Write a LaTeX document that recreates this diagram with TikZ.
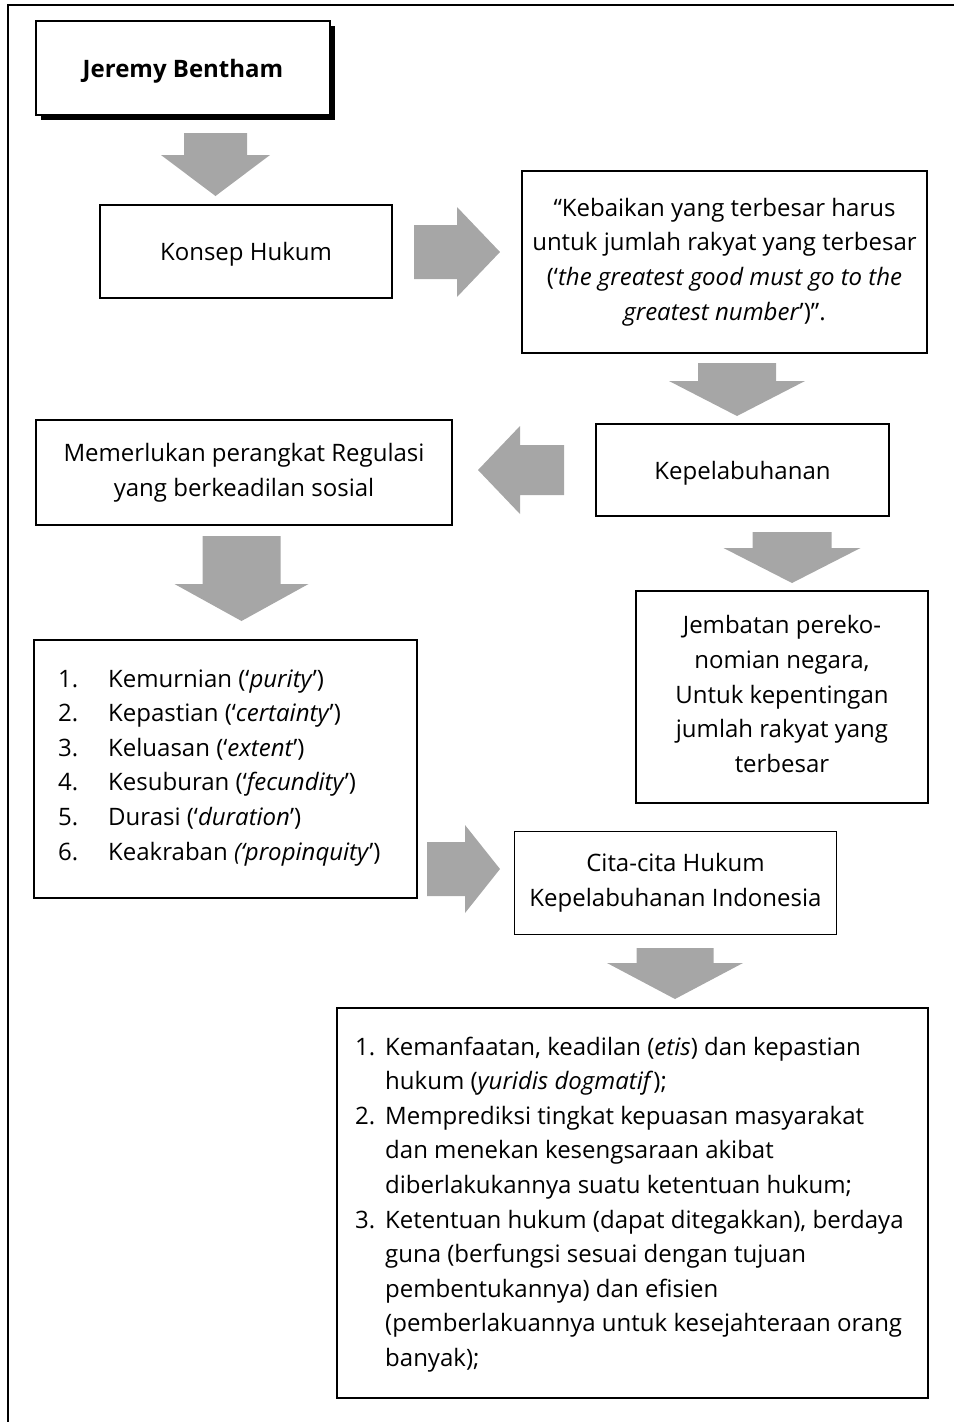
\documentclass[tikz,border=0pt]{standalone}
\usepackage{fontspec}
\setmainfont{Open Sans}
\usetikzlibrary{shadows}
\definecolor{arrowgray}{HTML}{A6A6A6}

% block arrow pointing down: centre x, top, neck, tip, shaft half-width, head half-width
\newcommand{\arrowdown}[6]{%
  \fill[arrowgray] ({#1-#5},#2) -- ({#1+#5},#2) -- ({#1+#5},#3) -- ({#1+#6},#3)
    -- (#1,#4) -- ({#1-#6},#3) -- ({#1-#5},#3) -- cycle;}
% block arrow pointing sideways: centre y, tail x, neck x, tip x, shaft half-width, head half-width
\newcommand{\arrowside}[6]{%
  \fill[arrowgray] (#2,{#1-#5}) -- (#3,{#1-#5}) -- (#3,{#1-#6}) -- (#4,#1)
    -- (#3,{#1+#6}) -- (#3,{#1+#5}) -- (#2,{#1+#5}) -- cycle;}

\begin{document}
\begin{tikzpicture}[x=1pt,y=-1pt,
  txt/.style={font=\fontsize{24}{34.6}\selectfont},
  box/.style={txt, draw=black, line width=1.5pt, fill=white, align=center, inner sep=0pt},
  oneline/.style={text depth=0pt},
  listtext/.style={txt, inner sep=0pt, anchor=base west, align=left},
]
\useasboundingbox (0,0) rectangle (954,1422);

% page frame, open at the right and at the bottom
\draw[line width=2pt] (8,1422) -- (8,5) -- (954,5);

% boxes
\node[box, oneline, minimum width=294, minimum height=94, font=\fontsize{24}{34.6}\selectfont\bfseries,
      drop shadow={shadow xshift=5pt, shadow yshift=-5pt, fill=black, opacity=1}]
  (bentham) at (183,68) {Jeremy Bentham};
\node[box, oneline, minimum width=292, minimum height=93] (konsep) at (246,251.5) {Konsep Hukum};
\node[box, minimum width=405, minimum height=182] (motto) at (724.5,262)
  {“Kebaikan yang terbesar harus\\untuk jumlah rakyat yang terbesar\\
   (‘\textit{the greatest good must go to the}\\\textit{greatest number}’)”.};
\node[box, oneline, minimum width=293, minimum height=92] (pelabuhan) at (742.5,470) {Kepelabuhanan};
\node[box, minimum width=416, minimum height=105] (regulasi) at (244,472.5)
  {Memerlukan perangkat Regulasi\\yang berkeadilan sosial};
\node[box, text depth=6pt, minimum width=292, minimum height=212] (jembatan) at (782,697)
  {Jembatan pereko-\\nomian negara,\\Untuk kepentingan\\jumlah rakyat yang\\terbesar};
\node[box, minimum width=383, minimum height=258] (kriteria) at (225.5,769) {};
\node[box, minimum width=322, minimum height=103] (cita) at (675.5,883)
  {Cita-cita Hukum\\Kepelabuhanan Indonesia};
\node[box, minimum width=591, minimum height=390] (tujuan) at (632.5,1203) {};

% list texts
\node[listtext] (kriterialist) at (58,687) {%
  \begin{tabular}[t]{@{}p{50pt}@{}l@{}}
  1. & Kemurnian (‘\textit{purity}’)\\
  2. & Kepastian (‘\textit{certainty}’)\\
  3. & Keluasan (‘\textit{extent}’)\\
  4. & Kesuburan (‘\textit{fecundity}’)\\
  5. & Durasi (‘\textit{duration}’)\\
  6. & Keakraban \textit{(‘propinquity}’)
  \end{tabular}};
\node[listtext] (tujuanlist) at (355,1055) {%
  \begin{tabular}[t]{@{}p{30pt}@{}l@{}}
  1. & Kemanfaatan, keadilan (\textit{etis}) dan kepastian\\
     & hukum (\textit{yuridis dogmatif});\\
  2. & Memprediksi tingkat kepuasan masyarakat\\
     & dan menekan kesengsaraan akibat\\
     & diberlakukannya suatu ketentuan hukum;\\
  3. & Ketentuan hukum (dapat ditegakkan), berdaya\\
     & guna (berfungsi sesuai dengan tujuan\\
     & pembentukannya) dan efisien\\
     & (pemberlakuannya untuk kesejahteraan orang\\
     & banyak);
  \end{tabular}};

% block arrows between the boxes
\arrowdown{215.5}{133}{155}{196}{31.5}{54.5}
\arrowside{252}{414}{457}{500}{27}{45}
\arrowdown{737}{363}{381}{416}{39}{68}
\arrowside{470}{564}{520}{478}{25}{44}
\arrowdown{241.5}{536}{584}{621}{39}{67}
\arrowdown{792}{532}{548}{583}{39.5}{68.5}
\arrowside{869}{427}{465}{500}{27}{44}
\arrowdown{675}{948}{963}{999}{38.5}{68}
\end{tikzpicture}
\end{document}
